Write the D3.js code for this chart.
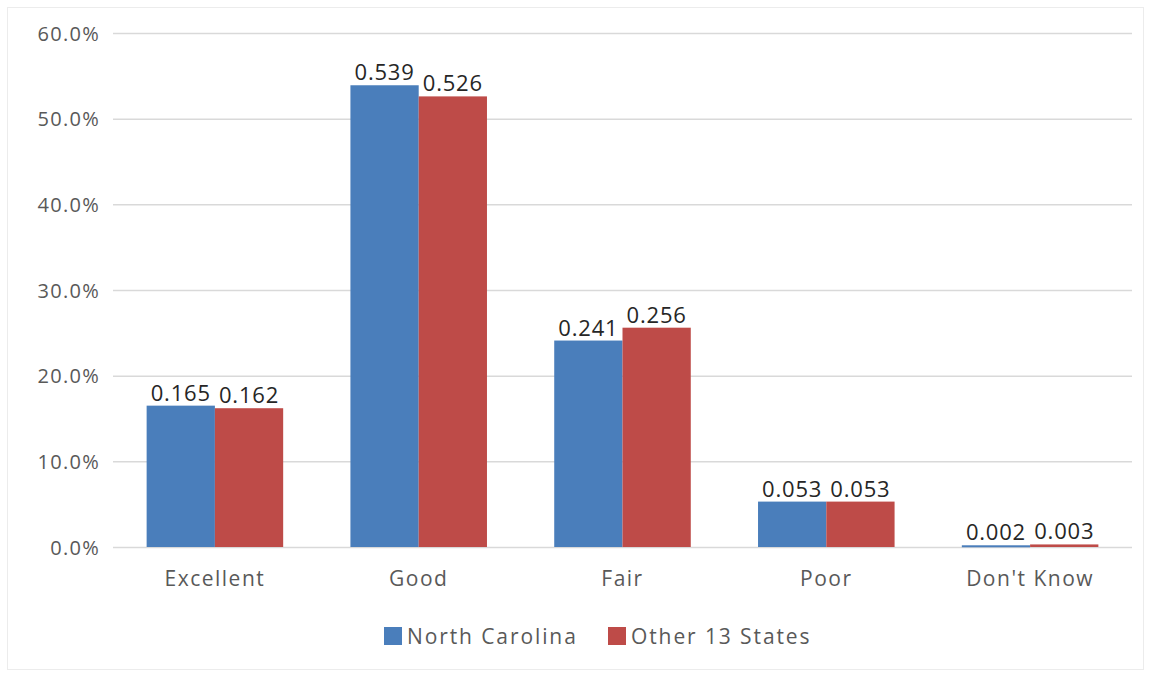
<!DOCTYPE html>
<html>
<head>
<meta charset="utf-8">
<script src="https://cdn.jsdelivr.net/npm/d3@7"></script>
<style>
body { margin: 0; background: #fff; }
text { font-family: "Open Sans", sans-serif; }
</style>
</head>
<body>
<script>
var width = 1151;
var height = 675;
var categories = ["Excellent", "Good", "Fair", "Poor", "Don't Know"]
var series_names = ["North Carolina", "Other 13 States"]
var nc_values = [0.165, 0.539, 0.241, 0.053, 0.002]
var other_values = [0.162, 0.526, 0.256, 0.053, 0.003]
var y_ticks = [0, 0.1, 0.2, 0.3, 0.4, 0.5, 0.6]
var colors = ["#4a7ebb", "#be4b48"]

var plot_left = 113, plot_right = 1132, plot_top = 33, plot_bottom = 547

var svg = d3.select("body").append("svg")
.attr("width", width)
.attr("height", height)

// faint outer frame
svg.append("rect")
.attr("x", 7.5).attr("y", 7.5)
.attr("width", 1136).attr("height", 662)
.attr("fill", "none")
.attr("stroke", "#ececec")

var x = d3.scaleBand()
.domain(categories)
.range([plot_left, plot_right])
.paddingInner(0.33)
.paddingOuter(0.165)

var x_inner = d3.scaleBand()
.domain(series_names)
.range([0, x.bandwidth()])

var y = d3.scaleLinear()
.domain([0, 0.6])
.range([plot_bottom, plot_top])

// gridlines + y labels
var y_axis = svg.append("g")
.attr("transform", "translate(" + plot_left + ",0)")
.call(d3.axisLeft(y).tickValues(y_ticks).tickFormat(d3.format(".1%"))
  .tickSize(-(plot_right - plot_left)).tickPadding(13))
y_axis.select(".domain").remove()
y_axis.selectAll("line").attr("stroke", "#d9d9d9").attr("stroke-width", 1.5)
y_axis.selectAll("text").attr("fill", "#595959").style("font-size", "20px")
.style("letter-spacing", "1.3px").attr("dy", "0.36em")

// x labels
var x_axis = svg.append("g")
.attr("transform", "translate(0," + plot_bottom + ")")
.call(d3.axisBottom(x).tickSize(0).tickPadding(24))
x_axis.select(".domain").remove()
x_axis.selectAll("text").attr("fill", "#595959").style("font-size", "21px")
.style("letter-spacing", "1.5px").attr("dy", "0.71em")

var all_values = [nc_values, other_values]
var groups = svg.append("g")
.selectAll("g")
.data(categories)
.enter().append("g")
.attr("transform", function(d) { return "translate(" + x(d) + ",0)" })

series_names.forEach(function(s, si) {
    groups.append("rect")
    .attr("x", x_inner(s))
    .attr("y", function(d, i) { return y(all_values[si][i]) })
    .attr("width", x_inner.bandwidth())
    .attr("height", function(d, i) { return Math.max(plot_bottom - y(all_values[si][i]), 2) })
    .attr("fill", colors[si])

    groups.append("text")
    .attr("x", x_inner(s) + x_inner.bandwidth() / 2)
    .attr("y", function(d, i) { return Math.min(y(all_values[si][i]), plot_bottom - 2) - 5 })
    .attr("text-anchor", "middle")
    .attr("fill", "#262626")
    .style("font-size", "22px")
    .style("letter-spacing", "0.8px")
    .text(function(d, i) { return d3.format(".3f")(all_values[si][i]) })
})

// legend
var legend_x = [384, 608]
series_names.forEach(function(s, si) {
    svg.append("rect")
    .attr("x", legend_x[si]).attr("y", 627)
    .attr("width", 18).attr("height", 18)
    .attr("fill", colors[si])
    svg.append("text")
    .attr("x", legend_x[si] + 23).attr("y", 644)
    .attr("fill", "#595959")
    .style("font-size", "21px")
    .style("letter-spacing", "1.9px")
    .text(s)
})
</script>
</body>
</html>
